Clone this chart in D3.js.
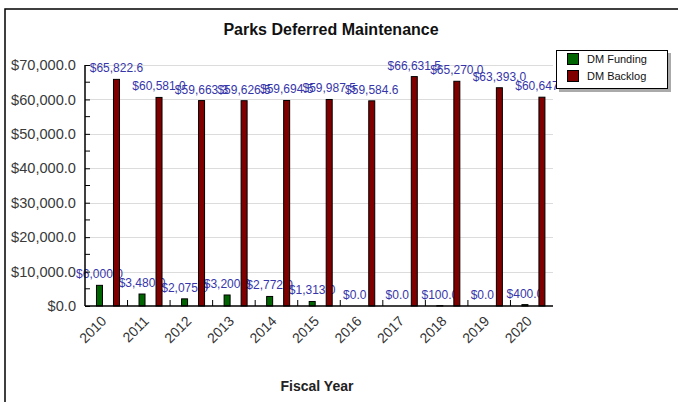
<!DOCTYPE html>
<html>
<head>
<meta charset="utf-8">
<script src="https://cdn.jsdelivr.net/npm/d3@7/dist/d3.min.js"></script>
<style>
  html, body { margin: 0; padding: 0; background: #fff; }
  svg { display: block; font-family: "Liberation Sans", Arial, sans-serif; }
</style>
</head>
<body>
<svg id="chart" width="678" height="402"></svg>
<script>
const years = ["2010","2011","2012","2013","2014","2015","2016","2017","2018","2019","2020"];
const dmFunding = [6000.0, 3480.0, 2075.0, 3200.0, 2772.0, 1313.0, 0.0, 0.0, 100.0, 0.0, 400.0];
const dmBacklog = [65822.6, 60581.0, 59663.3, 59626.5, 59694.5, 59987.5, 59584.6, 66631.5, 65270.0, 63393.0, 60647.0];
const seriesNames = ["DM Funding", "DM Backlog"];
const seriesColors = ["#006400", "#800000"];
const yTicks = [0, 10000, 20000, 30000, 40000, 50000, 60000, 70000];
const yMinorTicks = [5000, 15000, 25000, 35000, 45000, 55000, 65000];

const svg = d3.select("#chart");
const pLeft = 85, pRight = 553, pTop = 65, pBottom = 306;

// outer frame
svg.append("rect").attr("x", 5).attr("y", 9).attr("width", 720).attr("height", 450)
  .attr("fill", "#fff").attr("stroke", "#000").attr("stroke-width", 1.5);

const x = d3.scaleBand().domain(years).range([pLeft, pRight]);
const y = d3.scaleLinear().domain([0, 70000]).range([pBottom, pTop]);
const fmt = v => "$" + d3.format(",.1f")(v);

// gridlines
svg.append("g").selectAll("line").data(yTicks.filter(d => d > 0)).join("line")
  .attr("x1", pLeft).attr("x2", pRight)
  .attr("y1", d => Math.round(y(d)) + 0.5).attr("y2", d => Math.round(y(d)) + 0.5)
  .attr("stroke", "#dcdcdc").attr("stroke-width", 1);

// value labels (drawn beneath bars)
const series = [dmFunding, dmBacklog];
const offsets = [-6.8, 10.2];
const barW = 6;
const labelG = svg.append("g").attr("font-size", 12).attr("fill", "#3636aa").attr("text-anchor", "middle");
series.forEach((vals, si) => {
  labelG.selectAll(null).data(vals).join("text")
    .attr("x", (d, i) => x(years[i]) + x.bandwidth() / 2 + offsets[si])
    .attr("y", d => y(d) - 7)
    .text(d => fmt(d));
});

// bars
series.forEach((vals, si) => {
  svg.append("g").selectAll("rect").data(vals).join("rect")
    .attr("x", (d, i) => x(years[i]) + x.bandwidth() / 2 + offsets[si] - barW / 2)
    .attr("y", d => y(d))
    .attr("width", barW)
    .attr("height", d => pBottom - y(d))
    .attr("fill", seriesColors[si])
    .attr("stroke", "#000").attr("stroke-width", 1);
});

// y axis
const yAxis = svg.append("g").attr("transform", `translate(${pLeft},0)`)
  .call(d3.axisLeft(y).tickValues(yTicks).tickSize(-5).tickPadding(9).tickFormat(fmt));
yAxis.select(".domain").remove();
yAxis.selectAll("text").attr("font-size", 14.6).attr("fill", "#3a3a3a").attr("font-family", "Liberation Sans, Arial, sans-serif");
yAxis.selectAll("line").attr("stroke", "#000");
svg.append("g").selectAll("line").data(yMinorTicks).join("line")
  .attr("x1", pLeft).attr("x2", pLeft + 5)
  .attr("y1", d => y(d)).attr("y2", d => y(d)).attr("stroke", "#000");
svg.append("line").attr("x1", pLeft).attr("x2", pLeft).attr("y1", pTop).attr("y2", pBottom)
  .attr("stroke", "#000").attr("stroke-width", 1.5);

// x axis
const boundaries = years.slice(1).map(yv => x(yv));
svg.append("g").selectAll("line").data(boundaries).join("line")
  .attr("x1", d => d).attr("x2", d => d).attr("y1", pBottom).attr("y2", pBottom - 6)
  .attr("stroke", "#000");
svg.append("line").attr("x1", pLeft).attr("x2", pRight).attr("y1", pBottom).attr("y2", pBottom)
  .attr("stroke", "#000").attr("stroke-width", 1.5);
svg.append("g").selectAll("text").data(years).join("text")
  .attr("transform", d => `translate(${x(d) + x.bandwidth() / 2 + 1},${pBottom + 16}) rotate(-45)`)
  .attr("text-anchor", "end").attr("font-size", 14).attr("fill", "#333")
  .text(d => d);

// titles
svg.append("text").attr("x", 331).attr("y", 35).attr("text-anchor", "middle")
  .attr("font-size", 16).attr("font-weight", "bold").attr("fill", "#111")
  .text("Parks Deferred Maintenance");
svg.append("text").attr("x", 317).attr("y", 391).attr("text-anchor", "middle")
  .attr("font-size", 14).attr("font-weight", "bold").attr("fill", "#222")
  .text("Fiscal Year");

// legend
const lg = svg.append("g");
lg.append("rect").attr("x", 559).attr("y", 53).attr("width", 112).attr("height", 39).attr("fill", "#aaa");
lg.append("rect").attr("x", 556.5).attr("y", 50.5).attr("width", 111).attr("height", 38)
  .attr("fill", "#fff").attr("stroke", "#000").attr("stroke-width", 1);
seriesNames.forEach((n, i) => {
  lg.append("rect").attr("x", 567.5).attr("y", 53.5 + i * 17).attr("width", 11).attr("height", 11)
    .attr("fill", seriesColors[i]).attr("stroke", "#000");
  lg.append("text").attr("x", 587).attr("y", 63 + i * 17).attr("font-size", 11).attr("fill", "#111")
    .text(n);
});
</script>
</body>
</html>
